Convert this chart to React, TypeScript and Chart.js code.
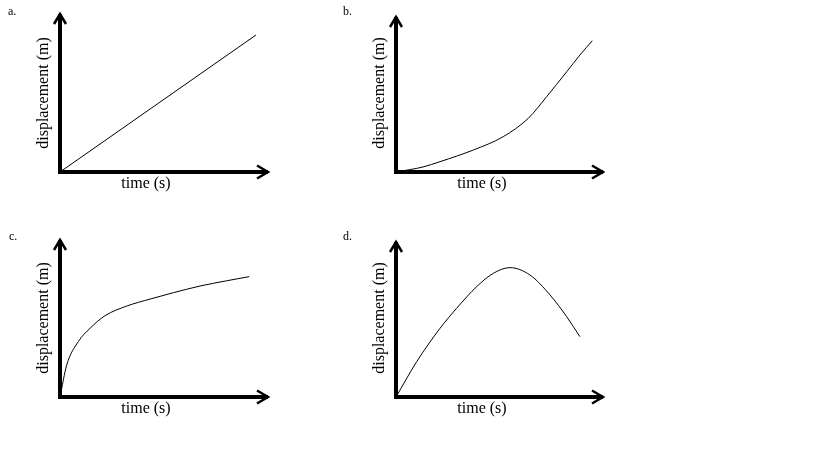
import { useEffect, useRef } from 'react';
import { Chart, registerables } from 'chart.js';

Chart.register(...registerables);

// ---- data (time in arbitrary units 0..10, displacement 0..10) ----
const panelLabels = ['a.', 'b.', 'c.', 'd.'];
const xTitle = 'time (s)';
const yTitle = 'displacement (m)';

const aTime = [0, 9.33];
const aDisp = [0, 8.56];

const bTime = [0, 1.29, 2.11, 3.7, 5.13, 6.33, 7.21, 8.17, 8.8, 9.39];
const bDisp = [0, 0.32, 0.66, 1.4, 2.25, 3.42, 4.8, 6.39, 7.45, 8.36];

const cTime = [0, 0.32, 0.87, 1.43, 2.14, 3.18, 4.29, 5.4, 6.67, 7.94, 9.01];
const cDisp = [0, 2.01, 3.48, 4.32, 5.11, 5.72, 6.16, 6.56, 6.98, 7.31, 7.57];

const dTime = [0, 0.99, 2.11, 2.9, 3.86, 4.66, 5.45, 6.41, 7.37, 8.17, 8.8];
const dDisp = [0, 2.25, 4.38, 5.65, 7.03, 7.88, 8.24, 7.77, 6.5, 5.11, 3.84];

const axesPlugin = {
  id: 'arrowAxes',
  afterDatasetsDraw(chart: any, _args: any, opts: any) {
    const { ctx, chartArea, scales } = chart;
    const ox = scales.x.getPixelForValue(0);
    const oy = scales.y.getPixelForValue(0);
    const xt = chartArea.right;
    const yt = chartArea.top;
    ctx.save();
    ctx.strokeStyle = '#000';
    ctx.lineCap = 'butt';
    ctx.lineWidth = 4;
    ctx.beginPath();
    ctx.moveTo(ox - 2, oy);
    ctx.lineTo(xt - 2, oy);
    ctx.stroke();
    ctx.beginPath();
    ctx.moveTo(ox, oy + 2);
    ctx.lineTo(ox, yt + 2);
    ctx.stroke();
    ctx.lineWidth = 2.5;
    ctx.lineJoin = 'miter';
    ctx.beginPath();
    ctx.moveTo(xt - 13, oy - 6.5);
    ctx.lineTo(xt - 2, oy);
    ctx.lineTo(xt - 13, oy + 6.5);
    ctx.stroke();
    ctx.beginPath();
    ctx.moveTo(ox - 6, yt + 12);
    ctx.lineTo(ox, yt + 2);
    ctx.lineTo(ox + 6, yt + 12);
    ctx.stroke();

    ctx.fillStyle = '#000';
    ctx.font = "16px 'Liberation Serif'";
    ctx.textAlign = 'center';
    ctx.textBaseline = 'alphabetic';
    ctx.fillText(opts.xTitle, ox + 86, oy + 16);
    ctx.save();
    ctx.translate(ox - 12, oy - 79);
    ctx.rotate(-Math.PI / 2);
    ctx.fillText(opts.yTitle, 0, 0);
    ctx.restore();

    ctx.font = "12px 'Liberation Serif'";
    ctx.textAlign = 'left';
    ctx.fillText(opts.label, opts.labelX, opts.labelY);
    ctx.restore();
  },
};

type PanelProps = {
  left: number;
  top: number;
  width: number;
  height: number;
  pad: { left: number; top: number; right: number; bottom: number };
  xs: number[];
  ys: number[];
  label: string;
  labelX: number;
  labelY: number;
  curved: boolean;
};

function Panel(p: PanelProps) {
  const ref = useRef<HTMLCanvasElement | null>(null);
  useEffect(() => {
    if (!ref.current) return;
    const chart = new Chart(ref.current, {
      type: 'line',
      data: {
        datasets: [
          {
            data: p.xs.map((x, i) => ({ x, y: p.ys[i] })),
            borderColor: '#000',
            borderWidth: 1,
            pointRadius: 0,
            fill: false,
            cubicInterpolationMode: p.curved ? 'monotone' : 'default',
            tension: 0,
          },
        ],
      },
      options: {
        animation: false,
        responsive: false,
        events: [],
        layout: { padding: p.pad },
        scales: {
          x: { type: 'linear', min: 0, max: 10, display: false },
          y: { type: 'linear', min: 0, max: 10, display: false },
        },
        plugins: {
          legend: { display: false },
          tooltip: { enabled: false },
          arrowAxes: { xTitle, yTitle, label: p.label, labelX: p.labelX, labelY: p.labelY },
        } as any,
      },
      plugins: [axesPlugin],
    } as any);
    return () => chart.destroy();
  }, []);
  return (
    <canvas
      ref={ref}
      width={p.width}
      height={p.height}
      style={{ position: 'absolute', left: p.left, top: p.top, width: p.width, height: p.height }}
    />
  );
}

export default function App() {
  return (
    <div style={{ position: 'absolute', left: 0, top: 0, width: 819, height: 470, background: '#fff' }}>
      <Panel left={0} top={0} width={340} height={225} pad={{ left: 60, top: 12, right: 70, bottom: 53 }}
        xs={aTime} ys={aDisp} label={panelLabels[0]} labelX={8} labelY={15} curved={false} />
      <Panel left={340} top={0} width={340} height={225} pad={{ left: 56, top: 15, right: 75, bottom: 53 }}
        xs={bTime} ys={bDisp} label={panelLabels[1]} labelX={3} labelY={15} curved={true} />
      <Panel left={0} top={225} width={340} height={245} pad={{ left: 60, top: 13, right: 70, bottom: 73 }}
        xs={cTime} ys={cDisp} label={panelLabels[2]} labelX={9} labelY={15} curved={true} />
      <Panel left={340} top={225} width={340} height={245} pad={{ left: 56, top: 15, right: 75, bottom: 73 }}
        xs={dTime} ys={dDisp} label={panelLabels[3]} labelX={3} labelY={15} curved={true} />
    </div>
  );
}
